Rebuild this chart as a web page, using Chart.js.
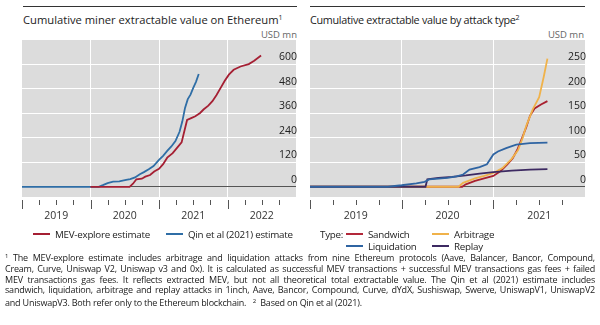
<!DOCTYPE html>
<html>
<head>
<meta charset="utf-8">
<script src="https://cdn.jsdelivr.net/npm/chart.js@4/dist/chart.umd.min.js"></script>
<style>
  body { margin: 0; background: #fff; font-family: "Open Sans", sans-serif; color: #222; }
  #page { position: relative; width: 600px; height: 325px; overflow: hidden; }
  .rule { position: absolute; top: 6px; height: 1px; background: #333; }
  .title { position: absolute; top: 11px; font-size: 11.2px; line-height: 14px; white-space: nowrap; }
  .title sup { font-size: 7px; vertical-align: 4px; }
  .unit { position: absolute; top: 28px; font-size: 9.5px; color: #666; text-align: right; }
  canvas { position: absolute; top: 40px; }
  .legend { position: absolute; font-size: 9.8px; line-height: 12px; letter-spacing: -0.25px; white-space: nowrap; }
  .sw { display: inline-block; width: 17px; height: 2px; vertical-align: 3px; margin-right: 5px; }
  .notes { position: absolute; left: 5px; top: 251px; width: 590px; font-size: 9px; line-height: 10.8px; letter-spacing: -0.2px; color: #1a1a1a; }
  .notes div { white-space: nowrap; text-align: justify; text-align-last: justify; }
  .notes div.last { text-align-last: left; }
  .notes sup { font-size: 6px; vertical-align: 3px; }
</style>
</head>
<body>
<div id="page">
  <div class="rule" style="left:23px;width:274px"></div>
  <div class="rule" style="left:310px;width:275px"></div>
  <div class="title" style="left:23px">Cumulative miner extractable value on Ethereum<sup>1</sup></div>
  <div class="title" style="left:310px;font-size:10.8px;letter-spacing:-0.3px">Cumulative extractable value by attack type<sup>2</sup></div>
  <div class="unit" style="left:197px;width:100px">USD mn</div>
  <div class="unit" style="left:484px;width:100px">USD mn</div>

  <canvas id="left" width="277" height="190" style="left:22px"></canvas>
  <canvas id="right" width="278" height="190" style="left:310px"></canvas>

  <div class="legend" style="left:33px;top:229px"><span class="sw" style="background:#a51f33"></span>MEV-explore estimate</div>
  <div class="legend" style="left:166px;top:229px"><span class="sw" style="background:#2f6ea6"></span>Qin et al (2021) estimate</div>

  <div class="legend" style="left:320px;top:229px">Type:</div>
  <div class="legend" style="left:346px;top:229px"><span class="sw" style="background:#b3283a"></span>Sandwich</div>
  <div class="legend" style="left:432px;top:229px"><span class="sw" style="background:#f0b24a"></span>Arbitrage</div>
  <div class="legend" style="left:346px;top:241px"><span class="sw" style="background:#2f64a2"></span>Liquidation</div>
  <div class="legend" style="left:432px;top:241px"><span class="sw" style="background:#3d2a62"></span>Replay</div>

  <div class="notes">
    <div><sup>1</sup> The MEV-explore estimate includes arbitrage and liquidation attacks from nine Ethereum protocols (Aave, Balancer, Bancor, Compound,</div>
    <div>Cream, Curve, Uniswap V2, Uniswap v3 and 0x). It is calculated as successful MEV transactions + successful MEV transactions gas fees + failed</div>
    <div>MEV transactions gas fees. It reflects extracted MEV, but not all theoretical total extractable value. The Qin et al (2021) estimate includes</div>
    <div>sandwich, liquidation, arbitrage and replay attacks in 1inch, Aave, Bancor, Compound, Curve, dYdX, Sushiswap, Swerve, UniswapV1, UniswapV2</div>
    <div class="last">and UniswapV3. Both refer only to the Ethereum blockchain. &nbsp;&nbsp;<sup>2</sup>&nbsp; Based on Qin et al (2021).</div>
  </div>
</div>

<script>
// ---- left panel: cumulative MEV (USD mn), x in decimal years ----
const mevDates = [2020.0, 2020.57, 2020.62, 2020.67, 2020.75, 2020.8, 2020.87, 2020.93, 2021.0, 2021.06,
  2021.12, 2021.2, 2021.26, 2021.33, 2021.41, 2021.47, 2021.53, 2021.6, 2021.65, 2021.72,
  2021.78, 2021.84, 2021.9, 2021.96, 2022.02, 2022.09, 2022.19, 2022.31, 2022.39, 2022.49];
const mevValues = [0, 0, 15, 37, 40, 50, 58, 75, 88, 111,
  143, 165, 190, 218, 328, 337, 346, 362, 379, 398,
  420, 450, 485, 520, 550, 574, 590, 602, 618, 644];

const qinDates = [2019.0, 2020.12, 2020.18, 2020.25, 2020.33, 2020.42, 2020.52, 2020.58, 2020.65, 2020.72,
  2020.78, 2020.85, 2020.92, 2021.0, 2021.06, 2021.12, 2021.18, 2021.24, 2021.3, 2021.34,
  2021.38, 2021.42, 2021.46, 2021.5, 2021.54, 2021.58];
const qinValues = [0, 0, 8, 18, 25, 27, 34, 38, 46, 62,
  72, 86, 102, 132, 152, 176, 198, 224, 270, 320,
  387, 430, 452, 485, 515, 553];

// ---- right panel: by attack type (USD mn) ----
const sandwichDates = [2019.0, 2020.66, 2020.7, 2020.8, 2020.9, 2021.0, 2021.08, 2021.15, 2021.21, 2021.26,
  2021.31, 2021.36, 2021.4, 2021.45, 2021.52, 2021.59];
const sandwichValues = [0, 0, 5, 12, 17, 22, 32, 45, 58, 75,
  98, 122, 145, 160, 168, 175];

const arbitrageDates = [2019.0, 2020.62, 2020.67, 2020.8, 2020.9, 2021.0, 2021.1, 2021.2, 2021.27, 2021.32,
  2021.36, 2021.43, 2021.5, 2021.55, 2021.59];
const arbitrageValues = [0, 0, 8, 17, 22, 28, 38, 57, 75, 100,
  125, 158, 183, 225, 262];

const liquidationDates = [2019.0, 2019.85, 2020.0, 2020.16, 2020.25, 2020.3, 2020.5, 2020.6, 2020.67, 2020.74,
  2020.85, 2020.93, 2021.0, 2021.05, 2021.14, 2021.25, 2021.4, 2021.59];
const liquidationValues = [0, 0, 3, 7, 10, 15, 18, 21, 25, 35,
  40, 46, 66, 72, 79, 86, 89, 90];

const replayDates = [2019.0, 2020.26, 2020.28, 2020.4, 2020.55, 2020.7, 2020.85, 2021.0, 2021.2, 2021.4, 2021.59];
const replayValues = [0, 0, 15, 18, 20, 23, 27, 30, 33, 35, 36];

// ---- axes ----
const leftYTicks = [0, 120, 240, 360, 480, 600];
const rightYTicks = [0, 50, 100, 150, 200, 250];
const leftQuarters = [2019, 2019.25, 2019.5, 2019.75, 2020, 2020.25, 2020.5, 2020.75,
  2021, 2021.25, 2021.5, 2021.75, 2022, 2022.25, 2022.5, 2022.75, 2023];
const rightQuarters = [2019, 2019.25, 2019.5, 2019.75, 2020, 2020.25, 2020.5, 2020.75,
  2021, 2021.25, 2021.5, 2021.75, 2022];

const FONT = { family: '"Open Sans", sans-serif', size: 10.5 };

function points(dates, values) {
  return dates.map((d, i) => ({ x: d, y: values[i] }));
}

function line(label, dates, values, color) {
  return {
    label: label,
    data: points(dates, values),
    borderColor: color,
    borderWidth: 1.8,
    pointRadius: 0,
    tension: 0,
    fill: false,
  };
}

// grey panel behind the plot area
const panelBg = {
  id: "panelBg",
  beforeDraw(chart) {
    const { ctx, chartArea: a } = chart;
    ctx.save();
    ctx.fillStyle = "#dcdcdc";
    ctx.fillRect(a.left, a.top, a.right - a.left, a.bottom - a.top);
    ctx.restore();
  },
};

// quarter tick marks under the plot, longer at year starts
const quarterMarks = {
  id: "quarterMarks",
  afterDraw(chart) {
    const { ctx, chartArea: a } = chart;
    const xs = chart.scales.x;
    ctx.save();
    ctx.strokeStyle = "#555";
    ctx.lineWidth = 1;
    xs.ticks.forEach((t) => {
      if (t.value >= xs.max) return;
      const px = Math.round(xs.getPixelForValue(t.value)) + 0.5;
      const major = t.value % 1 === 0;
      ctx.beginPath();
      ctx.moveTo(px, a.bottom + 3);
      ctx.lineTo(px, a.bottom + (major ? 12 : 8));
      ctx.stroke();
    });
    ctx.restore();
  },
};

function makeChart(id, datasets, quarters, yTicks, yMin, yMax) {
  return new Chart(document.getElementById(id), {
    type: "line",
    data: { datasets: datasets },
    options: {
      responsive: false,
      animation: false,
      devicePixelRatio: 1,
      layout: { padding: { left: 0, top: 0, bottom: 0, right: 3 } },
      plugins: { legend: { display: false }, tooltip: { enabled: false } },
      scales: {
        x: {
          type: "linear",
          min: quarters[0],
          max: quarters[quarters.length - 1],
          afterBuildTicks: (s) => { s.ticks = quarters.map((v) => ({ value: v })); },
          afterFit: (s) => { s.height = 33; s.paddingLeft = 0; s.paddingRight = 0; },
          border: { display: false },
          grid: {
            drawTicks: false,
            color: (c) => {
              const v = c.tick && c.tick.value;
              return v % 1 === 0 && v !== quarters[0] && v !== quarters[quarters.length - 1]
                ? "#ffffff" : "rgba(0,0,0,0)";
            },
            lineWidth: 1,
          },
          ticks: {
            autoSkip: false,
            maxRotation: 0,
            padding: 13,
            color: "#333",
            font: FONT,
            callback: (v) => (Math.abs((v % 1) - 0.5) < 1e-6 ? String(Math.floor(v)) : ""),
          },
        },
        y: {
          type: "linear",
          position: "right",
          min: yMin,
          max: yMax,
          afterBuildTicks: (s) => { s.ticks = yTicks.map((v) => ({ value: v })); },
          afterFit: (s) => { s.width = 0; s.paddingTop = 0; s.paddingBottom = 0; },
          border: { display: false },
          grid: {
            drawTicks: false,
            color: (c) => (c.tick && c.tick.value === 0 ? "#555555" : "#ffffff"),
            lineWidth: 1,
          },
          ticks: {
            mirror: true,
            padding: 1,
            labelOffset: -7,
            color: "#222",
            font: FONT,
          },
        },
      },
    },
    plugins: [panelBg, quarterMarks],
  });
}

makeChart("left", [
  line("MEV-explore estimate", mevDates, mevValues, "#a51f33"),
  line("Qin et al (2021) estimate", qinDates, qinValues, "#2f6ea6"),
], leftQuarters, leftYTicks, -50, 720);

makeChart("right", [
  line("Liquidation", liquidationDates, liquidationValues, "#2f64a2"),
  line("Replay", replayDates, replayValues, "#3d2a62"),
  line("Arbitrage", arbitrageDates, arbitrageValues, "#f0b24a"),
  line("Sandwich", sandwichDates, sandwichValues, "#a8202f"),
], rightQuarters, rightYTicks, -21, 300);
</script>
</body>
</html>
